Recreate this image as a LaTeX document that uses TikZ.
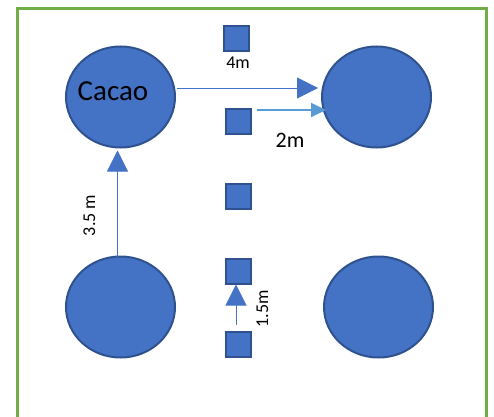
\documentclass[tikz,border=0pt]{standalone}
\usepackage{fontspec}
\setmainfont{Carlito}
\usepackage{tikz}
\usetikzlibrary{arrows.meta}
\usetikzlibrary{shapes.geometric}
\definecolor{treeblue}{HTML}{4472C4}
\definecolor{treeedge}{HTML}{2F528F}
\definecolor{lightarrow}{HTML}{5B9BD5}
\definecolor{framegreen}{HTML}{70AD47}
\begin{document}
\begin{tikzpicture}[line cap=butt,line join=miter,x=1pt,y=1pt,
    cacao/.style={ellipse,draw=treeedge,fill=treeblue,line width=2pt,minimum width=109pt,minimum height=101pt,inner sep=0pt,outer sep=0pt},
    stake/.style={rectangle,draw=treeedge,fill=treeblue,line width=2pt,minimum size=25pt,inner sep=0pt,outer sep=0pt},
    bigarrow/.style={treeblue,line width=1pt,-{Triangle[length=21pt,width=21pt]}},
    smallarrow/.style={lightarrow,line width=2pt,-{Triangle[length=15pt,width=14pt]}},
    dist/.style={font=\fontsize{18}{20}\selectfont,inner sep=0pt}]
      \useasboundingbox (0,0) rectangle (494,416);
      \clip (0,0) rectangle (494,416);
      % field border
      \draw[framegreen,line width=3pt] (17.5,-10) -- (17.5,407) -- (486,407) -- (486,-10);
      % cacao trees
      \node[cacao] (tl) at (120.5,319) {};
      \node[cacao] (tr) at (376.5,319) {};
      \node[cacao] (bl) at (120.5,109) {};
      \node[cacao] (br) at (378.5,109) {};
      \node[anchor=base,inner sep=0pt,font=\fontsize{29}{30}\selectfont] (lbl) at (113,315.3) {Cacao};
      % stakes in the middle row
      \node[stake] (s1) at (236.5,377.5) {};
      \node[stake] (s2) at (238,295) {};
      \node[stake] (s3) at (238,220) {};
      \node[stake] (s4) at (238,145) {};
      \node[stake] (s5) at (238,71.5) {};
      % distances
      \draw[bigarrow] ([xshift=2pt,yshift=9pt]tl.east) -- ([xshift=-4pt,yshift=9pt]tr.west);
      \draw[smallarrow] ([xshift=6pt,yshift=11pt]s2.east) -- ([xshift=4pt,yshift=-13pt]tr.west);
      \draw[bigarrow] ([xshift=-3pt]bl.north) -- ([xshift=-3pt,yshift=-3pt]tl.south);
      \draw[bigarrow] ([xshift=-2pt,yshift=7pt]s5.north) -- ([xshift=-2pt,yshift=-1pt]s4.south);
      \node[dist,anchor=base] (d4) at (238,348) {4m};
      \node[dist,anchor=base,font=\fontsize{22}{24}\selectfont] (d2) at (290,268.3) {2m};
      \node[dist,anchor=base,rotate=90] (d35) at (95,200.5) {3.5 m};
      \node[dist,anchor=base,rotate=90] (d15) at (268,107) {1.5m};
\end{tikzpicture}
\end{document}
